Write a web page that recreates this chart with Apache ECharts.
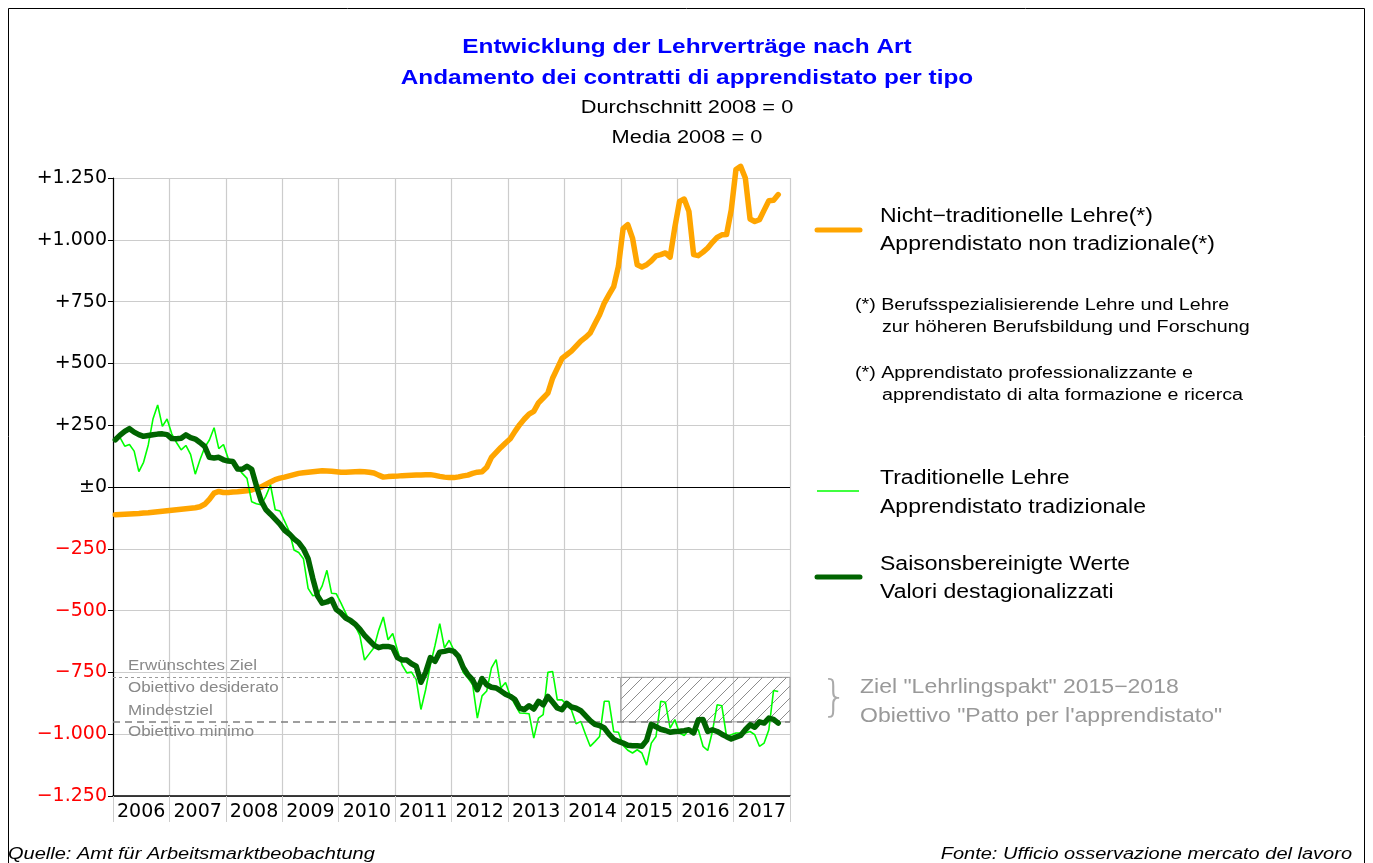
<!DOCTYPE html>
<html>
<head>
<meta charset="utf-8">
<script src="https://cdn.jsdelivr.net/npm/echarts@6/dist/echarts.min.js"></script>
<style>
  html, body { margin: 0; padding: 0; background: #fff; }
  #chart { width: 1373px; height: 863px; }
</style>
</head>
<body>
<div id="chart"></div>
<script>
// monthly values from Jan 2006 to Oct 2017, deviation from 2008 average
var startYear = 2006;
var years = ['2006', '2007', '2008', '2009', '2010', '2011', '2012', '2013', '2014', '2015', '2016', '2017'];
var yTicks = {
    '-1250': '\u22121.250', '-1000': '\u22121.000', '-750': '\u2212750', '-500': '\u2212500', '-250': '\u2212250',
    '0': '\u00b10', '250': '+250', '500': '+500', '750': '+750', '1000': '+1.000', '1250': '+1.250'
};

// Nicht-traditionelle Lehre
var nonTraditional = [
    -112, -111, -110, -109, -108, -107, -105, -104, -102, -100, -98, -96,
    -94, -92, -90, -88, -86, -84, -80, -70, -50, -25, -18, -22,
    -22, -20, -19, -17, -15, -12, -5, 0, 10, 20, 30, 36,
    40, 45, 50, 55, 58, 60, 62, 64, 66, 65, 64, 62,
    60, 60, 61, 62, 63, 62, 60, 57, 48, 40, 42, 43,
    44, 46, 47, 48, 49, 49, 50, 50, 47, 43, 40, 38,
    38, 41, 45, 48, 55, 60, 62, 80, 120, 140, 160, 178,
    195, 225, 252, 275, 295, 306, 340, 360, 380, 440, 480, 520,
    535, 550, 570, 590, 605, 623, 660, 697, 744, 778, 811, 892,
    1045, 1061, 1007, 899, 890, 899, 915, 935, 940, 947, 930, 1050,
    1155, 1165, 1115, 940, 936, 950, 967, 990, 1010, 1020, 1021, 1120,
    1284, 1297, 1250, 1084, 1074, 1081, 1120, 1158, 1160, 1183
];

// Traditionelle Lehre (Rohwerte)
var traditional = [
    191, 200, 165, 172, 145, 62, 100, 170, 275, 332, 245, 275,
    215, 180, 150, 168, 132, 52, 110, 160, 190, 240, 155, 172,
    115, 100, 80, 55, 35, -60, -68, -72, -38, 8, -92, -97,
    -138, -180, -255, -265, -290, -410, -440, -436, -400, -337, -430, -432,
    -470, -510, -550, -562, -600, -700, -675, -650, -580, -526, -618, -593,
    -660, -720, -752, -749, -779, -900, -820, -720, -640, -553, -651, -620,
    -660, -690, -750, -773, -800, -935, -845, -825, -732, -698, -813, -791,
    -845, -880, -914, -915, -917, -1016, -935, -921, -750, -746, -861, -861,
    -881, -901, -958, -948, -1000, -1049, -1030, -1009, -867, -867, -990, -992,
    -1045, -1065, -1076, -1063, -1076, -1125, -1036, -1009, -867, -871, -975, -941,
    -995, -1005, -982, -982, -982, -1049, -1066, -989, -881, -885, -1009, -1002,
    -995, -995, -995, -989, -1002, -1049, -1036, -982, -823, -827
];

// Saisonbereinigte Werte
var seasonAdj = [
    191, 210, 225, 236, 222, 212, 205, 208, 211, 214, 215, 212,
    196, 195, 197, 211, 200, 194, 180, 164, 120, 117, 120, 110,
    105, 103, 73, 72, 84, 72, 5, -55, -91, -110, -130, -150,
    -175, -190, -210, -225, -250, -290, -370, -440, -470, -465, -455, -496,
    -510, -530, -540, -555, -575, -600, -620, -640, -650, -645, -645, -650,
    -690, -700, -700, -715, -725, -790, -750, -690, -705, -668, -665, -660,
    -665, -685, -730, -760, -780, -820, -775, -800, -810, -813, -825, -838,
    -847, -860, -895, -900, -885, -898, -867, -881, -847, -870, -894, -901,
    -875, -890, -895, -905, -925, -945, -960, -965, -975, -1000, -1020, -1029,
    -1036, -1045, -1047, -1047, -1049, -1025, -960, -970, -980, -985, -992, -989,
    -988, -986, -982, -995, -942, -941, -989, -982, -989, -1000, -1010, -1019,
    -1012, -1005, -982, -962, -972, -950, -955, -935, -940, -955
];

var targetWanted = -770;   // Erwünschtes Ziel
var targetMin = -950;      // Mindestziel
var pactStart = 2015, pactEnd = 2018;

function toPairs(arr) {
    return arr.map(function (v, i) { return [startYear + (i + 0.5) / 12, v]; });
}

// hatch pattern for the target box
var hatch = document.createElement('canvas');
hatch.width = 12; hatch.height = 12;
var hc = hatch.getContext('2d');
hc.strokeStyle = '#8c8c8c';
hc.lineWidth = 1;
hc.beginPath();
hc.moveTo(0, 12); hc.lineTo(12, 0);
hc.moveTo(-6, 6); hc.lineTo(6, -6);
hc.moveTo(6, 18); hc.lineTo(18, 6);
hc.stroke();

var font = 'Liberation Sans, Arial, sans-serif';
var axisFont = 'DejaVu Sans, sans-serif';
var myChart = echarts.init(document.getElementById('chart'));

// text is a bit wider than normal Arial in the original, so stretch it
function txt(x, y, text, size, sx, opts) {
    opts = opts || {};
    return {
        type: 'text', x: x, y: y, scaleX: sx, z: 100,
        style: {
            text: text,
            font: (opts.weight || '') + ' ' + (opts.italic ? 'italic ' : '') + size + 'px ' + font,
            fill: opts.color || '#000',
            textAlign: opts.align || 'left',
            textVerticalAlign: 'middle'
        }
    };
}

var option = {
    animation: false,
    backgroundColor: '#fff',
    grid: { left: 113, right: 583, top: 178, bottom: 67 },
    xAxis: [
        {
            type: 'value', min: 2006, max: 2018, interval: 1,
            axisLine: { onZero: false, lineStyle: { color: '#000', width: 1.5 } },
            axisTick: { show: true, length: 26, lineStyle: { color: '#cccccc' } },
            axisLabel: { show: false },
            splitLine: { lineStyle: { color: '#cccccc', width: 1.2 } }
        },
        {
            type: 'category', data: years, position: 'bottom', boundaryGap: true,
            axisLine: { show: false }, axisTick: { show: false },
            axisLabel: { interval: 0, fontSize: 19, color: '#000', fontFamily: axisFont, margin: 7 },
            splitLine: { show: false }
        }
    ],
    yAxis: {
        type: 'value', min: -1250, max: 1250, interval: 250,
        axisLine: { show: true, lineStyle: { color: '#000', width: 1.2 } },
        axisTick: { show: true, length: 5, lineStyle: { color: '#000' } },
        axisLabel: {
            margin: 6,
            formatter: function (v) {
                return (v < 0 ? '{r|' : '{b|') + yTicks[String(v)] + '}';
            },
            rich: {
                r: { color: '#ff0000', fontSize: 19, fontFamily: axisFont },
                b: { color: '#000', fontSize: 19, fontFamily: axisFont }
            }
        },
        splitLine: { lineStyle: { color: '#cccccc', width: 1.2 } }
    },
    series: [
        {
            name: 'Nicht-traditionelle Lehre', type: 'line', data: toPairs(nonTraditional),
            showSymbol: false, clip: false,
            lineStyle: { color: '#ffa500', width: 5.5, cap: 'round', join: 'round' },
            z: 3,
            markLine: {
                silent: true, symbol: 'none', label: { show: false },
                data: [
                    { yAxis: 0, lineStyle: { color: '#000', width: 1.2, type: 'solid' } },
                    { yAxis: targetWanted, lineStyle: { color: '#999999', width: 1.2, type: [3, 3] } },
                    { yAxis: targetMin, lineStyle: { color: '#7f7f7f', width: 1.5, type: [7, 5] } }
                ]
            },
            markArea: {
                silent: true,
                itemStyle: { color: { image: hatch, repeat: 'repeat' }, borderColor: '#999999', borderWidth: 1 },
                data: [[{ xAxis: pactStart, yAxis: targetWanted }, { xAxis: pactEnd, yAxis: targetMin }]]
            }
        },
        {
            name: 'Traditionelle Lehre', type: 'line', data: toPairs(traditional),
            showSymbol: false, lineStyle: { color: '#00ff00', width: 1.6 }, z: 4
        },
        {
            name: 'Saisonsbereinigte Werte', type: 'line', data: toPairs(seasonAdj),
            showSymbol: false, lineStyle: { color: '#006400', width: 5.5, cap: 'round', join: 'round' }, z: 5
        }
    ],
    graphic: [
        { type: 'rect', shape: { x: 8.5, y: 8.5, width: 1356, height: 900 }, style: { fill: 'none', stroke: '#000', lineWidth: 1 } },
        txt(687, 47, 'Entwicklung der Lehrverträge nach Art', 21, 1.16, { weight: 'bold', color: '#0000ff', align: 'center' }),
        txt(687, 78, 'Andamento dei contratti di apprendistato per tipo', 21, 1.16, { weight: 'bold', color: '#0000ff', align: 'center' }),
        txt(687, 108, 'Durchschnitt 2008 = 0', 18, 1.21, { align: 'center' }),
        txt(687, 138, 'Media 2008 = 0', 18, 1.21, { align: 'center' }),

        txt(128, 666, 'Erwünschtes Ziel', 15, 1.13, { color: '#888' }),
        txt(128, 688, 'Obiettivo desiderato', 15, 1.13, { color: '#888' }),
        txt(128, 711, 'Mindestziel', 15, 1.13, { color: '#888' }),
        txt(128, 732, 'Obiettivo minimo', 15, 1.13, { color: '#888' }),

        { type: 'line', z: 100, shape: { x1: 817, y1: 230, x2: 860, y2: 230 }, style: { stroke: '#ffa500', lineWidth: 5, lineCap: 'round' } },
        txt(880, 216, 'Nicht\u2212traditionelle Lehre(*)', 20, 1.15),
        txt(880, 244, 'Apprendistato non tradizionale(*)', 20, 1.15),
        txt(855, 306, '(*) Berufsspezialisierende Lehre und Lehre', 16, 1.23),
        txt(882, 328, 'zur höheren Berufsbildung und Forschung', 16, 1.23),
        txt(855, 374, '(*) Apprendistato professionalizzante e', 16, 1.23),
        txt(882, 396, 'apprendistato di alta formazione e ricerca', 16, 1.23),

        { type: 'line', z: 100, shape: { x1: 817, y1: 491, x2: 859, y2: 491 }, style: { stroke: '#00ff00', lineWidth: 1.5 } },
        txt(880, 478, 'Traditionelle Lehre', 20, 1.15),
        txt(880, 507, 'Apprendistato tradizionale', 20, 1.15),

        { type: 'line', z: 100, shape: { x1: 817, y1: 577, x2: 860, y2: 577 }, style: { stroke: '#006400', lineWidth: 5, lineCap: 'round' } },
        txt(880, 564, 'Saisonsbereinigte Werte', 20, 1.15),
        txt(880, 592, 'Valori destagionalizzati', 20, 1.15),

        { type: 'text', x: 821, y: 700, z: 100, style: { text: '}', font: '200 42px DejaVu Sans, sans-serif', fill: '#aaaaaa', textVerticalAlign: 'middle' } },
        txt(860, 687, 'Ziel "Lehrlingspakt" 2015\u22122018', 20, 1.15, { color: '#999' }),
        txt(860, 716, 'Obiettivo "Patto per l\'apprendistato"', 20, 1.15, { color: '#999' }),

        txt(8, 855, 'Quelle: Amt für Arbeitsmarktbeobachtung', 16, 1.25, { italic: true }),
        txt(1352, 855, 'Fonte: Ufficio osservazione mercato del lavoro', 16, 1.25, { italic: true, align: 'right' })
    ]
};

myChart.setOption(option);
</script>
</body>
</html>
